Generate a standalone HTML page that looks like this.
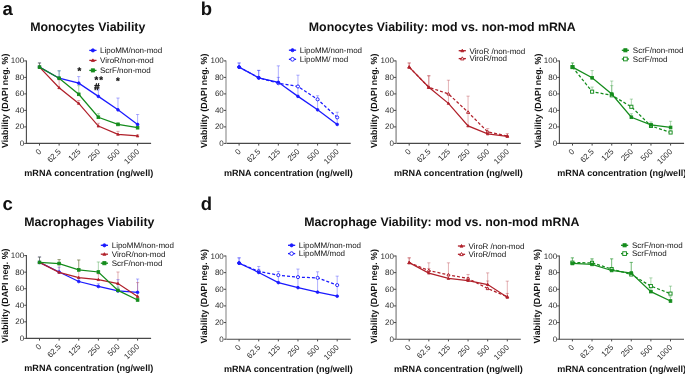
<!DOCTYPE html>
<html><head><meta charset="utf-8"><style>
html,body{margin:0;padding:0;background:#fff;width:685px;height:374px;overflow:hidden}
svg{display:block;will-change:transform;filter:blur(0.25px)}
text{font-family:"Liberation Sans", sans-serif;text-rendering:geometricPrecision}
</style></head><body>
<svg width="685" height="374" viewBox="0 0 685 374">
<rect width="685" height="374" fill="#fff"/>
<text x="2.60" y="14.60" font-size="18.5" font-weight="bold" text-anchor="start" fill="#111" >a</text>
<text x="200.80" y="14.70" font-size="18.5" font-weight="bold" text-anchor="start" fill="#111" >b</text>
<text x="2.60" y="209.90" font-size="18.5" font-weight="bold" text-anchor="start" fill="#111" >c</text>
<text x="200.80" y="209.80" font-size="18.5" font-weight="bold" text-anchor="start" fill="#111" >d</text>
<text x="30.20" y="31.40" font-size="12.36" font-weight="bold" text-anchor="start" fill="#111" >Monocytes Viability</text>
<text x="308.80" y="31.40" font-size="12.36" font-weight="bold" text-anchor="start" fill="#111" >Monocytes Viability: mod vs. non-mod mRNA</text>
<text x="24.20" y="226.20" font-size="12.36" font-weight="bold" text-anchor="start" fill="#111" >Macrophages Viability</text>
<text x="304.20" y="226.20" font-size="12.36" font-weight="bold" text-anchor="start" fill="#111" >Macrophage Viability: mod vs. non-mod mRNA</text>
<line x1="26.40" y1="143.40" x2="151.10" y2="143.40" stroke="#484848" stroke-width="1.1"/>
<line x1="26.40" y1="60.40" x2="26.40" y2="143.90" stroke="#484848" stroke-width="1.1"/>
<line x1="24.20" y1="143.40" x2="26.40" y2="143.40" stroke="#484848" stroke-width="1"/>
<text x="24.20" y="145.90" font-size="8.0" font-weight="normal" text-anchor="end" fill="#2a2a2a" >0</text>
<line x1="24.20" y1="126.90" x2="26.40" y2="126.90" stroke="#484848" stroke-width="1"/>
<text x="24.20" y="129.40" font-size="8.0" font-weight="normal" text-anchor="end" fill="#2a2a2a" >20</text>
<line x1="24.20" y1="110.40" x2="26.40" y2="110.40" stroke="#484848" stroke-width="1"/>
<text x="24.20" y="112.90" font-size="8.0" font-weight="normal" text-anchor="end" fill="#2a2a2a" >40</text>
<line x1="24.20" y1="93.90" x2="26.40" y2="93.90" stroke="#484848" stroke-width="1"/>
<text x="24.20" y="96.40" font-size="8.0" font-weight="normal" text-anchor="end" fill="#2a2a2a" >60</text>
<line x1="24.20" y1="77.40" x2="26.40" y2="77.40" stroke="#484848" stroke-width="1"/>
<text x="24.20" y="79.90" font-size="8.0" font-weight="normal" text-anchor="end" fill="#2a2a2a" >80</text>
<line x1="24.20" y1="60.90" x2="26.40" y2="60.90" stroke="#484848" stroke-width="1"/>
<text x="24.20" y="63.40" font-size="8.0" font-weight="normal" text-anchor="end" fill="#2a2a2a" >100</text>
<line x1="39.50" y1="143.40" x2="39.50" y2="145.60" stroke="#484848" stroke-width="1"/>
<text x="0" y="0" font-size="8.0" text-anchor="end" fill="#2a2a2a" transform="translate(41.80,152.10) rotate(-45)">0</text>
<line x1="59.12" y1="143.40" x2="59.12" y2="145.60" stroke="#484848" stroke-width="1"/>
<text x="0" y="0" font-size="8.0" text-anchor="end" fill="#2a2a2a" transform="translate(61.42,152.10) rotate(-45)">62.5</text>
<line x1="78.74" y1="143.40" x2="78.74" y2="145.60" stroke="#484848" stroke-width="1"/>
<text x="0" y="0" font-size="8.0" text-anchor="end" fill="#2a2a2a" transform="translate(81.04,152.10) rotate(-45)">125</text>
<line x1="98.36" y1="143.40" x2="98.36" y2="145.60" stroke="#484848" stroke-width="1"/>
<text x="0" y="0" font-size="8.0" text-anchor="end" fill="#2a2a2a" transform="translate(100.66,152.10) rotate(-45)">250</text>
<line x1="117.98" y1="143.40" x2="117.98" y2="145.60" stroke="#484848" stroke-width="1"/>
<text x="0" y="0" font-size="8.0" text-anchor="end" fill="#2a2a2a" transform="translate(120.28,152.10) rotate(-45)">500</text>
<line x1="137.60" y1="143.40" x2="137.60" y2="145.60" stroke="#484848" stroke-width="1"/>
<text x="0" y="0" font-size="8.0" text-anchor="end" fill="#2a2a2a" transform="translate(139.90,152.10) rotate(-45)">1000</text>
<text x="0" y="0" font-size="8.9" font-weight="bold" text-anchor="middle" fill="#111" transform="translate(7.50,100.85) rotate(-90)">Viability (DAPI neg. %)</text>
<text x="88.75" y="176.40" font-size="9.05" font-weight="bold" text-anchor="middle" fill="#111" >mRNA concentration (ng/well)</text>
<path d="M39.50,67.09 L39.50,62.96 M37.90,62.96 L41.10,62.96" stroke="#1a1aff" stroke-width="0.9" stroke-opacity="0.38" fill="none"/>
<path d="M59.12,78.23 L59.12,70.80 M57.52,70.80 L60.72,70.80" stroke="#1a1aff" stroke-width="0.9" stroke-opacity="0.38" fill="none"/>
<path d="M78.74,83.18 L78.74,76.58 M77.14,76.58 L80.34,76.58" stroke="#1a1aff" stroke-width="0.9" stroke-opacity="0.38" fill="none"/>
<path d="M98.36,96.38 L98.36,89.78 M96.76,89.78 L99.96,89.78" stroke="#1a1aff" stroke-width="0.9" stroke-opacity="0.38" fill="none"/>
<path d="M117.98,109.82 L117.98,98.03 M116.38,98.03 L119.58,98.03" stroke="#1a1aff" stroke-width="0.9" stroke-opacity="0.38" fill="none"/>
<path d="M137.60,124.43 L137.60,114.53 M136.00,114.53 L139.20,114.53" stroke="#1a1aff" stroke-width="0.9" stroke-opacity="0.38" fill="none"/>
<path d="M39.50,67.09 L39.50,62.96 M37.90,62.96 L41.10,62.96" stroke="#b0202a" stroke-width="0.9" stroke-opacity="0.38" fill="none"/>
<path d="M59.12,87.71 L59.12,79.88 M57.52,79.88 L60.72,79.88" stroke="#b0202a" stroke-width="0.9" stroke-opacity="0.38" fill="none"/>
<path d="M78.74,103.39 L78.74,100.50 M77.14,100.50 L80.34,100.50" stroke="#b0202a" stroke-width="0.9" stroke-opacity="0.38" fill="none"/>
<path d="M98.36,126.08 L98.36,123.27 M96.76,123.27 L99.96,123.27" stroke="#b0202a" stroke-width="0.9" stroke-opacity="0.38" fill="none"/>
<path d="M117.98,134.33 L117.98,131.36 M116.38,131.36 L119.58,131.36" stroke="#b0202a" stroke-width="0.9" stroke-opacity="0.38" fill="none"/>
<path d="M137.60,135.97 L137.60,134.74 M136.00,134.74 L139.20,134.74" stroke="#b0202a" stroke-width="0.9" stroke-opacity="0.38" fill="none"/>
<path d="M39.50,67.09 L39.50,62.96 M37.90,62.96 L41.10,62.96" stroke="#148c1c" stroke-width="0.9" stroke-opacity="0.38" fill="none"/>
<path d="M59.12,78.23 L59.12,70.80 M57.52,70.80 L60.72,70.80" stroke="#148c1c" stroke-width="0.9" stroke-opacity="0.38" fill="none"/>
<path d="M78.74,94.31 L78.74,85.65 M77.14,85.65 L80.34,85.65" stroke="#148c1c" stroke-width="0.9" stroke-opacity="0.38" fill="none"/>
<path d="M98.36,117.25 L98.36,113.70 M96.76,113.70 L99.96,113.70" stroke="#148c1c" stroke-width="0.9" stroke-opacity="0.38" fill="none"/>
<path d="M117.98,124.43 L117.98,122.78 M116.38,122.78 L119.58,122.78" stroke="#148c1c" stroke-width="0.9" stroke-opacity="0.38" fill="none"/>
<path d="M137.60,127.73 L137.60,125.25 M136.00,125.25 L139.20,125.25" stroke="#148c1c" stroke-width="0.9" stroke-opacity="0.38" fill="none"/>
<polyline points="39.50,67.09 59.12,78.23 78.74,83.18 98.36,96.38 117.98,109.82 137.60,124.43" fill="none" stroke="#1a1aff" stroke-width="1.25" />
<circle cx="39.50" cy="67.09" r="1.35" fill="#1a1aff" stroke="#1a1aff" stroke-width="0.8"/>
<circle cx="59.12" cy="78.23" r="1.35" fill="#1a1aff" stroke="#1a1aff" stroke-width="0.8"/>
<circle cx="78.74" cy="83.18" r="1.35" fill="#1a1aff" stroke="#1a1aff" stroke-width="0.8"/>
<circle cx="98.36" cy="96.38" r="1.35" fill="#1a1aff" stroke="#1a1aff" stroke-width="0.8"/>
<circle cx="117.98" cy="109.82" r="1.35" fill="#1a1aff" stroke="#1a1aff" stroke-width="0.8"/>
<circle cx="137.60" cy="124.43" r="1.35" fill="#1a1aff" stroke="#1a1aff" stroke-width="0.8"/>
<polyline points="39.50,67.09 59.12,87.71 78.74,103.39 98.36,126.08 117.98,134.33 137.60,135.97" fill="none" stroke="#b0202a" stroke-width="1.25" />
<path d="M39.50,65.81 L40.78,68.05 L38.22,68.05 Z" fill="#b0202a" stroke="#b0202a" stroke-width="0.8"/>
<path d="M59.12,86.43 L60.40,88.67 L57.84,88.67 Z" fill="#b0202a" stroke="#b0202a" stroke-width="0.8"/>
<path d="M78.74,102.11 L80.02,104.35 L77.46,104.35 Z" fill="#b0202a" stroke="#b0202a" stroke-width="0.8"/>
<path d="M98.36,124.79 L99.64,127.04 L97.08,127.04 Z" fill="#b0202a" stroke="#b0202a" stroke-width="0.8"/>
<path d="M117.98,133.04 L119.26,135.29 L116.70,135.29 Z" fill="#b0202a" stroke="#b0202a" stroke-width="0.8"/>
<path d="M137.60,134.69 L138.88,136.94 L136.32,136.94 Z" fill="#b0202a" stroke="#b0202a" stroke-width="0.8"/>
<polyline points="39.50,67.09 59.12,78.23 78.74,94.31 98.36,117.25 117.98,124.43 137.60,127.73" fill="none" stroke="#148c1c" stroke-width="1.25" />
<rect x="38.15" y="65.74" width="2.70" height="2.70" fill="#148c1c" stroke="#148c1c" stroke-width="0.8"/>
<rect x="57.77" y="76.88" width="2.70" height="2.70" fill="#148c1c" stroke="#148c1c" stroke-width="0.8"/>
<rect x="77.39" y="92.96" width="2.70" height="2.70" fill="#148c1c" stroke="#148c1c" stroke-width="0.8"/>
<rect x="97.01" y="115.90" width="2.70" height="2.70" fill="#148c1c" stroke="#148c1c" stroke-width="0.8"/>
<rect x="116.63" y="123.08" width="2.70" height="2.70" fill="#148c1c" stroke="#148c1c" stroke-width="0.8"/>
<rect x="136.25" y="126.38" width="2.70" height="2.70" fill="#148c1c" stroke="#148c1c" stroke-width="0.8"/>
<line x1="89.30" y1="50.40" x2="96.50" y2="50.40" stroke="#1a1aff" stroke-width="1.3"/>
<circle cx="92.90" cy="50.40" r="1.60" fill="#1a1aff" stroke="#1a1aff" stroke-width="0.8"/>
<text x="100.00" y="53.25" font-size="8" font-weight="normal" text-anchor="start" fill="#111" >LipoMM/non-mod</text>
<line x1="89.30" y1="60.40" x2="96.50" y2="60.40" stroke="#b0202a" stroke-width="1.3"/>
<path d="M92.90,58.88 L94.42,61.54 L91.38,61.54 Z" fill="#b0202a" stroke="#b0202a" stroke-width="0.8"/>
<text x="100.00" y="63.25" font-size="8" font-weight="normal" text-anchor="start" fill="#111" >ViroR/non-mod</text>
<line x1="89.30" y1="70.40" x2="96.50" y2="70.40" stroke="#148c1c" stroke-width="1.3"/>
<rect x="91.30" y="68.80" width="3.20" height="3.20" fill="#148c1c" stroke="#148c1c" stroke-width="0.8"/>
<text x="100.00" y="73.25" font-size="8" font-weight="normal" text-anchor="start" fill="#111" >ScrF/non-mod</text>
<text x="79.40" y="73.60" font-size="9.6" font-weight="bold" text-anchor="middle" fill="#111" stroke="#111" stroke-width="0.25">*</text>
<text x="96.40" y="82.70" font-size="9.6" font-weight="bold" text-anchor="middle" fill="#111" stroke="#111" stroke-width="0.25">*</text>
<text x="101.10" y="82.70" font-size="9.6" font-weight="bold" text-anchor="middle" fill="#111" stroke="#111" stroke-width="0.25">*</text>
<text x="117.80" y="83.80" font-size="9.6" font-weight="bold" text-anchor="middle" fill="#111" stroke="#111" stroke-width="0.25">*</text>
<text x="94.21" y="89.73" font-size="9.5" font-weight="bold" text-anchor="start" fill="#111" stroke="#111" stroke-width="0.45">#</text>
<line x1="226.00" y1="143.40" x2="350.70" y2="143.40" stroke="#484848" stroke-width="1.1"/>
<line x1="226.00" y1="60.40" x2="226.00" y2="143.90" stroke="#aaa" stroke-width="1.5"/>
<line x1="223.80" y1="143.40" x2="226.00" y2="143.40" stroke="#484848" stroke-width="1"/>
<text x="223.80" y="145.90" font-size="8.0" font-weight="normal" text-anchor="end" fill="#2a2a2a" >0</text>
<line x1="223.80" y1="126.90" x2="226.00" y2="126.90" stroke="#484848" stroke-width="1"/>
<text x="223.80" y="129.40" font-size="8.0" font-weight="normal" text-anchor="end" fill="#2a2a2a" >20</text>
<line x1="223.80" y1="110.40" x2="226.00" y2="110.40" stroke="#484848" stroke-width="1"/>
<text x="223.80" y="112.90" font-size="8.0" font-weight="normal" text-anchor="end" fill="#2a2a2a" >40</text>
<line x1="223.80" y1="93.90" x2="226.00" y2="93.90" stroke="#484848" stroke-width="1"/>
<text x="223.80" y="96.40" font-size="8.0" font-weight="normal" text-anchor="end" fill="#2a2a2a" >60</text>
<line x1="223.80" y1="77.40" x2="226.00" y2="77.40" stroke="#484848" stroke-width="1"/>
<text x="223.80" y="79.90" font-size="8.0" font-weight="normal" text-anchor="end" fill="#2a2a2a" >80</text>
<line x1="223.80" y1="60.90" x2="226.00" y2="60.90" stroke="#484848" stroke-width="1"/>
<text x="223.80" y="63.40" font-size="8.0" font-weight="normal" text-anchor="end" fill="#2a2a2a" >100</text>
<line x1="239.10" y1="143.40" x2="239.10" y2="145.60" stroke="#484848" stroke-width="1"/>
<text x="0" y="0" font-size="8.0" text-anchor="end" fill="#2a2a2a" transform="translate(241.40,152.10) rotate(-45)">0</text>
<line x1="258.72" y1="143.40" x2="258.72" y2="145.60" stroke="#484848" stroke-width="1"/>
<text x="0" y="0" font-size="8.0" text-anchor="end" fill="#2a2a2a" transform="translate(261.02,152.10) rotate(-45)">62.5</text>
<line x1="278.34" y1="143.40" x2="278.34" y2="145.60" stroke="#484848" stroke-width="1"/>
<text x="0" y="0" font-size="8.0" text-anchor="end" fill="#2a2a2a" transform="translate(280.64,152.10) rotate(-45)">125</text>
<line x1="297.96" y1="143.40" x2="297.96" y2="145.60" stroke="#484848" stroke-width="1"/>
<text x="0" y="0" font-size="8.0" text-anchor="end" fill="#2a2a2a" transform="translate(300.26,152.10) rotate(-45)">250</text>
<line x1="317.58" y1="143.40" x2="317.58" y2="145.60" stroke="#484848" stroke-width="1"/>
<text x="0" y="0" font-size="8.0" text-anchor="end" fill="#2a2a2a" transform="translate(319.88,152.10) rotate(-45)">500</text>
<line x1="337.20" y1="143.40" x2="337.20" y2="145.60" stroke="#484848" stroke-width="1"/>
<text x="0" y="0" font-size="8.0" text-anchor="end" fill="#2a2a2a" transform="translate(339.50,152.10) rotate(-45)">1000</text>
<text x="0" y="0" font-size="8.9" font-weight="bold" text-anchor="middle" fill="#111" transform="translate(207.10,100.85) rotate(-90)">Viability (DAPI neg. %)</text>
<text x="288.35" y="176.40" font-size="9.05" font-weight="bold" text-anchor="middle" fill="#111" >mRNA concentration (ng/well)</text>
<path d="M239.10,67.09 L239.10,62.96 M237.50,62.96 L240.70,62.96" stroke="#1a1aff" stroke-width="0.9" stroke-opacity="0.38" fill="none"/>
<path d="M258.72,77.81 L258.72,70.39 M257.12,70.39 L260.32,70.39" stroke="#1a1aff" stroke-width="0.9" stroke-opacity="0.38" fill="none"/>
<path d="M278.34,82.35 L278.34,77.40 M276.74,77.40 L279.94,77.40" stroke="#1a1aff" stroke-width="0.9" stroke-opacity="0.38" fill="none"/>
<path d="M297.96,96.38 L297.96,86.48 M296.36,86.48 L299.56,86.48" stroke="#1a1aff" stroke-width="0.9" stroke-opacity="0.38" fill="none"/>
<path d="M317.58,109.82 L317.58,99.68 M315.98,99.68 L319.18,99.68" stroke="#1a1aff" stroke-width="0.9" stroke-opacity="0.38" fill="none"/>
<path d="M337.20,124.43 L337.20,117.83 M335.60,117.83 L338.80,117.83" stroke="#1a1aff" stroke-width="0.9" stroke-opacity="0.38" fill="none"/>
<path d="M239.10,67.09 L239.10,62.96 M237.50,62.96 L240.70,62.96" stroke="#1a1aff" stroke-width="0.9" stroke-opacity="0.38" fill="none"/>
<path d="M258.72,77.81 L258.72,70.39 M257.12,70.39 L260.32,70.39" stroke="#1a1aff" stroke-width="0.9" stroke-opacity="0.38" fill="none"/>
<path d="M278.34,83.18 L278.34,65.85 M276.74,65.85 L279.94,65.85" stroke="#1a1aff" stroke-width="0.9" stroke-opacity="0.38" fill="none"/>
<path d="M297.96,86.48 L297.96,75.17 M296.36,75.17 L299.56,75.17" stroke="#1a1aff" stroke-width="0.9" stroke-opacity="0.38" fill="none"/>
<path d="M317.58,99.34 L317.58,95.72 M315.98,95.72 L319.18,95.72" stroke="#1a1aff" stroke-width="0.9" stroke-opacity="0.38" fill="none"/>
<path d="M337.20,117.41 L337.20,112.22 M335.60,112.22 L338.80,112.22" stroke="#1a1aff" stroke-width="0.9" stroke-opacity="0.38" fill="none"/>
<polyline points="239.10,67.09 258.72,77.81 278.34,83.18 297.96,86.48 317.58,99.34 337.20,117.41" fill="none" stroke="#1a1aff" stroke-width="1.25" stroke-dasharray="3,2"/>
<circle cx="239.10" cy="67.09" r="1.55" fill="#fff" stroke="#1a1aff" stroke-width="0.95"/>
<circle cx="258.72" cy="77.81" r="1.55" fill="#fff" stroke="#1a1aff" stroke-width="0.95"/>
<circle cx="278.34" cy="83.18" r="1.55" fill="#fff" stroke="#1a1aff" stroke-width="0.95"/>
<circle cx="297.96" cy="86.48" r="1.55" fill="#fff" stroke="#1a1aff" stroke-width="0.95"/>
<circle cx="317.58" cy="99.34" r="1.55" fill="#fff" stroke="#1a1aff" stroke-width="0.95"/>
<circle cx="337.20" cy="117.41" r="1.55" fill="#fff" stroke="#1a1aff" stroke-width="0.95"/>
<polyline points="239.10,67.09 258.72,77.81 278.34,82.35 297.96,96.38 317.58,109.82 337.20,124.43" fill="none" stroke="#1a1aff" stroke-width="1.25" />
<circle cx="239.10" cy="67.09" r="1.35" fill="#1a1aff" stroke="#1a1aff" stroke-width="0.8"/>
<circle cx="258.72" cy="77.81" r="1.35" fill="#1a1aff" stroke="#1a1aff" stroke-width="0.8"/>
<circle cx="278.34" cy="82.35" r="1.35" fill="#1a1aff" stroke="#1a1aff" stroke-width="0.8"/>
<circle cx="297.96" cy="96.38" r="1.35" fill="#1a1aff" stroke="#1a1aff" stroke-width="0.8"/>
<circle cx="317.58" cy="109.82" r="1.35" fill="#1a1aff" stroke="#1a1aff" stroke-width="0.8"/>
<circle cx="337.20" cy="124.43" r="1.35" fill="#1a1aff" stroke="#1a1aff" stroke-width="0.8"/>
<line x1="288.90" y1="50.20" x2="296.10" y2="50.20" stroke="#1a1aff" stroke-width="1.3"/>
<circle cx="292.50" cy="50.20" r="1.60" fill="#1a1aff" stroke="#1a1aff" stroke-width="0.8"/>
<text x="299.80" y="53.05" font-size="8" font-weight="normal" text-anchor="start" fill="#111" >LipoMM/non-mod</text>
<line x1="288.90" y1="59.30" x2="296.10" y2="59.30" stroke="#1a1aff" stroke-width="1.3"/>
<circle cx="292.50" cy="59.30" r="1.84" fill="#fff" stroke="#1a1aff" stroke-width="0.95"/>
<text x="299.80" y="62.15" font-size="8" font-weight="normal" text-anchor="start" fill="#111" >LipoMM/ mod</text>
<line x1="396.10" y1="143.40" x2="520.80" y2="143.40" stroke="#484848" stroke-width="1.1"/>
<line x1="396.10" y1="60.40" x2="396.10" y2="143.90" stroke="#999" stroke-width="1.5"/>
<line x1="393.90" y1="143.40" x2="396.10" y2="143.40" stroke="#484848" stroke-width="1"/>
<text x="393.90" y="145.90" font-size="8.0" font-weight="normal" text-anchor="end" fill="#2a2a2a" >0</text>
<line x1="393.90" y1="126.90" x2="396.10" y2="126.90" stroke="#484848" stroke-width="1"/>
<text x="393.90" y="129.40" font-size="8.0" font-weight="normal" text-anchor="end" fill="#2a2a2a" >20</text>
<line x1="393.90" y1="110.40" x2="396.10" y2="110.40" stroke="#484848" stroke-width="1"/>
<text x="393.90" y="112.90" font-size="8.0" font-weight="normal" text-anchor="end" fill="#2a2a2a" >40</text>
<line x1="393.90" y1="93.90" x2="396.10" y2="93.90" stroke="#484848" stroke-width="1"/>
<text x="393.90" y="96.40" font-size="8.0" font-weight="normal" text-anchor="end" fill="#2a2a2a" >60</text>
<line x1="393.90" y1="77.40" x2="396.10" y2="77.40" stroke="#484848" stroke-width="1"/>
<text x="393.90" y="79.90" font-size="8.0" font-weight="normal" text-anchor="end" fill="#2a2a2a" >80</text>
<line x1="393.90" y1="60.90" x2="396.10" y2="60.90" stroke="#484848" stroke-width="1"/>
<text x="393.90" y="63.40" font-size="8.0" font-weight="normal" text-anchor="end" fill="#2a2a2a" >100</text>
<line x1="409.20" y1="143.40" x2="409.20" y2="145.60" stroke="#484848" stroke-width="1"/>
<text x="0" y="0" font-size="8.0" text-anchor="end" fill="#2a2a2a" transform="translate(411.50,152.10) rotate(-45)">0</text>
<line x1="428.82" y1="143.40" x2="428.82" y2="145.60" stroke="#484848" stroke-width="1"/>
<text x="0" y="0" font-size="8.0" text-anchor="end" fill="#2a2a2a" transform="translate(431.12,152.10) rotate(-45)">62.5</text>
<line x1="448.44" y1="143.40" x2="448.44" y2="145.60" stroke="#484848" stroke-width="1"/>
<text x="0" y="0" font-size="8.0" text-anchor="end" fill="#2a2a2a" transform="translate(450.74,152.10) rotate(-45)">125</text>
<line x1="468.06" y1="143.40" x2="468.06" y2="145.60" stroke="#484848" stroke-width="1"/>
<text x="0" y="0" font-size="8.0" text-anchor="end" fill="#2a2a2a" transform="translate(470.36,152.10) rotate(-45)">250</text>
<line x1="487.68" y1="143.40" x2="487.68" y2="145.60" stroke="#484848" stroke-width="1"/>
<text x="0" y="0" font-size="8.0" text-anchor="end" fill="#2a2a2a" transform="translate(489.98,152.10) rotate(-45)">500</text>
<line x1="507.30" y1="143.40" x2="507.30" y2="145.60" stroke="#484848" stroke-width="1"/>
<text x="0" y="0" font-size="8.0" text-anchor="end" fill="#2a2a2a" transform="translate(509.60,152.10) rotate(-45)">1000</text>
<text x="0" y="0" font-size="8.9" font-weight="bold" text-anchor="middle" fill="#111" transform="translate(377.20,100.85) rotate(-90)">Viability (DAPI neg. %)</text>
<text x="458.45" y="176.40" font-size="9.05" font-weight="bold" text-anchor="middle" fill="#111" >mRNA concentration (ng/well)</text>
<path d="M409.20,67.09 L409.20,62.96 M407.60,62.96 L410.80,62.96" stroke="#b0202a" stroke-width="0.9" stroke-opacity="0.38" fill="none"/>
<path d="M428.82,87.30 L428.82,75.75 M427.22,75.75 L430.42,75.75" stroke="#b0202a" stroke-width="0.9" stroke-opacity="0.38" fill="none"/>
<path d="M448.44,103.39 L448.44,93.90 M446.84,93.90 L450.04,93.90" stroke="#b0202a" stroke-width="0.9" stroke-opacity="0.38" fill="none"/>
<path d="M468.06,125.91 L468.06,112.22 M466.46,112.22 L469.66,112.22" stroke="#b0202a" stroke-width="0.9" stroke-opacity="0.38" fill="none"/>
<path d="M487.68,133.91 L487.68,131.85 M486.08,131.85 L489.28,131.85" stroke="#b0202a" stroke-width="0.9" stroke-opacity="0.38" fill="none"/>
<path d="M507.30,136.39 L507.30,135.56 M505.70,135.56 L508.90,135.56" stroke="#b0202a" stroke-width="0.9" stroke-opacity="0.38" fill="none"/>
<path d="M409.20,67.09 L409.20,62.96 M407.60,62.96 L410.80,62.96" stroke="#b0202a" stroke-width="0.9" stroke-opacity="0.38" fill="none"/>
<path d="M428.82,87.30 L428.82,75.75 M427.22,75.75 L430.42,75.75" stroke="#b0202a" stroke-width="0.9" stroke-opacity="0.38" fill="none"/>
<path d="M448.44,93.90 L448.44,80.21 M446.84,80.21 L450.04,80.21" stroke="#b0202a" stroke-width="0.9" stroke-opacity="0.38" fill="none"/>
<path d="M468.06,112.22 L468.06,96.13 M466.46,96.13 L469.66,96.13" stroke="#b0202a" stroke-width="0.9" stroke-opacity="0.38" fill="none"/>
<path d="M487.68,131.85 L487.68,128.55 M486.08,128.55 L489.28,128.55" stroke="#b0202a" stroke-width="0.9" stroke-opacity="0.38" fill="none"/>
<path d="M507.30,135.97 L507.30,133.50 M505.70,133.50 L508.90,133.50" stroke="#b0202a" stroke-width="0.9" stroke-opacity="0.38" fill="none"/>
<polyline points="409.20,67.09 428.82,87.30 448.44,93.90 468.06,112.22 487.68,131.85 507.30,135.97" fill="none" stroke="#b0202a" stroke-width="1.25" stroke-dasharray="3,2"/>
<path d="M409.20,65.61 L410.67,68.19 L407.73,68.19 Z" fill="#fff" stroke="#b0202a" stroke-width="0.95"/>
<path d="M428.82,85.83 L430.29,88.41 L427.35,88.41 Z" fill="#fff" stroke="#b0202a" stroke-width="0.95"/>
<path d="M448.44,92.43 L449.91,95.01 L446.97,95.01 Z" fill="#fff" stroke="#b0202a" stroke-width="0.95"/>
<path d="M468.06,110.74 L469.53,113.32 L466.59,113.32 Z" fill="#fff" stroke="#b0202a" stroke-width="0.95"/>
<path d="M487.68,130.38 L489.15,132.96 L486.21,132.96 Z" fill="#fff" stroke="#b0202a" stroke-width="0.95"/>
<path d="M507.30,134.50 L508.77,137.08 L505.83,137.08 Z" fill="#fff" stroke="#b0202a" stroke-width="0.95"/>
<polyline points="409.20,67.09 428.82,87.30 448.44,103.39 468.06,125.91 487.68,133.91 507.30,136.39" fill="none" stroke="#b0202a" stroke-width="1.25" />
<path d="M409.20,65.81 L410.48,68.05 L407.92,68.05 Z" fill="#b0202a" stroke="#b0202a" stroke-width="0.8"/>
<path d="M428.82,86.02 L430.10,88.26 L427.54,88.26 Z" fill="#b0202a" stroke="#b0202a" stroke-width="0.8"/>
<path d="M448.44,102.11 L449.72,104.35 L447.16,104.35 Z" fill="#b0202a" stroke="#b0202a" stroke-width="0.8"/>
<path d="M468.06,124.63 L469.34,126.87 L466.78,126.87 Z" fill="#b0202a" stroke="#b0202a" stroke-width="0.8"/>
<path d="M487.68,132.63 L488.96,134.87 L486.40,134.87 Z" fill="#b0202a" stroke="#b0202a" stroke-width="0.8"/>
<path d="M507.30,135.11 L508.58,137.35 L506.02,137.35 Z" fill="#b0202a" stroke="#b0202a" stroke-width="0.8"/>
<line x1="458.70" y1="50.70" x2="465.90" y2="50.70" stroke="#b0202a" stroke-width="1.3"/>
<path d="M462.30,49.18 L463.82,51.84 L460.78,51.84 Z" fill="#b0202a" stroke="#b0202a" stroke-width="0.8"/>
<text x="469.40" y="53.55" font-size="8" font-weight="normal" text-anchor="start" fill="#111" >ViroR /non-mod</text>
<line x1="458.70" y1="58.60" x2="465.90" y2="58.60" stroke="#b0202a" stroke-width="1.3"/>
<path d="M462.30,56.85 L464.05,59.91 L460.55,59.91 Z" fill="#fff" stroke="#b0202a" stroke-width="0.95"/>
<text x="469.40" y="61.45" font-size="8" font-weight="normal" text-anchor="start" fill="#111" >ViroR/mod</text>
<line x1="559.40" y1="143.40" x2="684.10" y2="143.40" stroke="#484848" stroke-width="1.1"/>
<line x1="559.40" y1="60.40" x2="559.40" y2="143.90" stroke="#484848" stroke-width="1.1"/>
<line x1="557.20" y1="143.40" x2="559.40" y2="143.40" stroke="#484848" stroke-width="1"/>
<text x="557.20" y="145.90" font-size="8.0" font-weight="normal" text-anchor="end" fill="#2a2a2a" >0</text>
<line x1="557.20" y1="126.90" x2="559.40" y2="126.90" stroke="#484848" stroke-width="1"/>
<text x="557.20" y="129.40" font-size="8.0" font-weight="normal" text-anchor="end" fill="#2a2a2a" >20</text>
<line x1="557.20" y1="110.40" x2="559.40" y2="110.40" stroke="#484848" stroke-width="1"/>
<text x="557.20" y="112.90" font-size="8.0" font-weight="normal" text-anchor="end" fill="#2a2a2a" >40</text>
<line x1="557.20" y1="93.90" x2="559.40" y2="93.90" stroke="#484848" stroke-width="1"/>
<text x="557.20" y="96.40" font-size="8.0" font-weight="normal" text-anchor="end" fill="#2a2a2a" >60</text>
<line x1="557.20" y1="77.40" x2="559.40" y2="77.40" stroke="#484848" stroke-width="1"/>
<text x="557.20" y="79.90" font-size="8.0" font-weight="normal" text-anchor="end" fill="#2a2a2a" >80</text>
<line x1="557.20" y1="60.90" x2="559.40" y2="60.90" stroke="#484848" stroke-width="1"/>
<text x="557.20" y="63.40" font-size="8.0" font-weight="normal" text-anchor="end" fill="#2a2a2a" >100</text>
<line x1="572.50" y1="143.40" x2="572.50" y2="145.60" stroke="#484848" stroke-width="1"/>
<text x="0" y="0" font-size="8.0" text-anchor="end" fill="#2a2a2a" transform="translate(574.80,152.10) rotate(-45)">0</text>
<line x1="592.12" y1="143.40" x2="592.12" y2="145.60" stroke="#484848" stroke-width="1"/>
<text x="0" y="0" font-size="8.0" text-anchor="end" fill="#2a2a2a" transform="translate(594.42,152.10) rotate(-45)">62.5</text>
<line x1="611.74" y1="143.40" x2="611.74" y2="145.60" stroke="#484848" stroke-width="1"/>
<text x="0" y="0" font-size="8.0" text-anchor="end" fill="#2a2a2a" transform="translate(614.04,152.10) rotate(-45)">125</text>
<line x1="631.36" y1="143.40" x2="631.36" y2="145.60" stroke="#484848" stroke-width="1"/>
<text x="0" y="0" font-size="8.0" text-anchor="end" fill="#2a2a2a" transform="translate(633.66,152.10) rotate(-45)">250</text>
<line x1="650.98" y1="143.40" x2="650.98" y2="145.60" stroke="#484848" stroke-width="1"/>
<text x="0" y="0" font-size="8.0" text-anchor="end" fill="#2a2a2a" transform="translate(653.28,152.10) rotate(-45)">500</text>
<line x1="670.60" y1="143.40" x2="670.60" y2="145.60" stroke="#484848" stroke-width="1"/>
<text x="0" y="0" font-size="8.0" text-anchor="end" fill="#2a2a2a" transform="translate(672.90,152.10) rotate(-45)">1000</text>
<text x="0" y="0" font-size="8.9" font-weight="bold" text-anchor="middle" fill="#111" transform="translate(540.50,100.85) rotate(-90)">Viability (DAPI neg. %)</text>
<text x="621.75" y="176.40" font-size="9.05" font-weight="bold" text-anchor="middle" fill="#111" >mRNA concentration (ng/well)</text>
<path d="M572.50,67.09 L572.50,62.96 M570.90,62.96 L574.10,62.96" stroke="#148c1c" stroke-width="0.9" stroke-opacity="0.38" fill="none"/>
<path d="M592.12,77.81 L592.12,70.55 M590.52,70.55 L593.72,70.55" stroke="#148c1c" stroke-width="0.9" stroke-opacity="0.38" fill="none"/>
<path d="M611.74,94.07 L611.74,85.65 M610.14,85.65 L613.34,85.65" stroke="#148c1c" stroke-width="0.9" stroke-opacity="0.38" fill="none"/>
<path d="M631.36,117.25 L631.36,113.70 M629.76,113.70 L632.96,113.70" stroke="#148c1c" stroke-width="0.9" stroke-opacity="0.38" fill="none"/>
<path d="M650.98,124.92 L650.98,121.95 M649.38,121.95 L652.58,121.95" stroke="#148c1c" stroke-width="0.9" stroke-opacity="0.38" fill="none"/>
<path d="M670.60,127.48 L670.60,121.29 M669.00,121.29 L672.20,121.29" stroke="#148c1c" stroke-width="0.9" stroke-opacity="0.38" fill="none"/>
<path d="M572.50,67.09 L572.50,62.96 M570.90,62.96 L574.10,62.96" stroke="#148c1c" stroke-width="0.9" stroke-opacity="0.38" fill="none"/>
<path d="M592.12,91.67 L592.12,87.05 M590.52,87.05 L593.72,87.05" stroke="#148c1c" stroke-width="0.9" stroke-opacity="0.38" fill="none"/>
<path d="M611.74,95.30 L611.74,81.03 M610.14,81.03 L613.34,81.03" stroke="#148c1c" stroke-width="0.9" stroke-opacity="0.38" fill="none"/>
<path d="M631.36,106.77 L631.36,99.10 M629.76,99.10 L632.96,99.10" stroke="#148c1c" stroke-width="0.9" stroke-opacity="0.38" fill="none"/>
<path d="M650.98,125.91 L650.98,123.60 M649.38,123.60 L652.58,123.60" stroke="#148c1c" stroke-width="0.9" stroke-opacity="0.38" fill="none"/>
<path d="M670.60,132.51 L670.60,130.20 M669.00,130.20 L672.20,130.20" stroke="#148c1c" stroke-width="0.9" stroke-opacity="0.38" fill="none"/>
<polyline points="572.50,67.09 592.12,91.67 611.74,95.30 631.36,106.77 650.98,125.91 670.60,132.51" fill="none" stroke="#148c1c" stroke-width="1.25" stroke-dasharray="3,2"/>
<rect x="570.95" y="65.54" width="3.10" height="3.10" fill="#fff" stroke="#148c1c" stroke-width="0.95"/>
<rect x="590.57" y="90.12" width="3.10" height="3.10" fill="#fff" stroke="#148c1c" stroke-width="0.95"/>
<rect x="610.19" y="93.75" width="3.10" height="3.10" fill="#fff" stroke="#148c1c" stroke-width="0.95"/>
<rect x="629.81" y="105.22" width="3.10" height="3.10" fill="#fff" stroke="#148c1c" stroke-width="0.95"/>
<rect x="649.43" y="124.36" width="3.10" height="3.10" fill="#fff" stroke="#148c1c" stroke-width="0.95"/>
<rect x="669.05" y="130.96" width="3.10" height="3.10" fill="#fff" stroke="#148c1c" stroke-width="0.95"/>
<polyline points="572.50,67.09 592.12,77.81 611.74,94.07 631.36,117.25 650.98,124.92 670.60,127.48" fill="none" stroke="#148c1c" stroke-width="1.25" />
<rect x="571.15" y="65.74" width="2.70" height="2.70" fill="#148c1c" stroke="#148c1c" stroke-width="0.8"/>
<rect x="590.77" y="76.46" width="2.70" height="2.70" fill="#148c1c" stroke="#148c1c" stroke-width="0.8"/>
<rect x="610.39" y="92.72" width="2.70" height="2.70" fill="#148c1c" stroke="#148c1c" stroke-width="0.8"/>
<rect x="630.01" y="115.90" width="2.70" height="2.70" fill="#148c1c" stroke="#148c1c" stroke-width="0.8"/>
<rect x="649.63" y="123.57" width="2.70" height="2.70" fill="#148c1c" stroke="#148c1c" stroke-width="0.8"/>
<rect x="669.25" y="126.13" width="2.70" height="2.70" fill="#148c1c" stroke="#148c1c" stroke-width="0.8"/>
<line x1="621.80" y1="50.30" x2="629.00" y2="50.30" stroke="#148c1c" stroke-width="1.3"/>
<rect x="623.80" y="48.70" width="3.20" height="3.20" fill="#148c1c" stroke="#148c1c" stroke-width="0.8"/>
<text x="632.80" y="53.15" font-size="8" font-weight="normal" text-anchor="start" fill="#111" >ScrF/non-mod</text>
<line x1="621.80" y1="59.00" x2="629.00" y2="59.00" stroke="#148c1c" stroke-width="1.3"/>
<rect x="623.56" y="57.16" width="3.68" height="3.68" fill="#fff" stroke="#148c1c" stroke-width="0.95"/>
<text x="632.80" y="61.85" font-size="8" font-weight="normal" text-anchor="start" fill="#111" >ScrF/mod</text>
<line x1="26.40" y1="338.40" x2="151.10" y2="338.40" stroke="#484848" stroke-width="1.1"/>
<line x1="26.40" y1="255.10" x2="26.40" y2="338.90" stroke="#484848" stroke-width="1.1"/>
<line x1="24.20" y1="338.40" x2="26.40" y2="338.40" stroke="#484848" stroke-width="1"/>
<text x="24.20" y="340.90" font-size="8.0" font-weight="normal" text-anchor="end" fill="#2a2a2a" >0</text>
<line x1="24.20" y1="321.84" x2="26.40" y2="321.84" stroke="#484848" stroke-width="1"/>
<text x="24.20" y="324.34" font-size="8.0" font-weight="normal" text-anchor="end" fill="#2a2a2a" >20</text>
<line x1="24.20" y1="305.28" x2="26.40" y2="305.28" stroke="#484848" stroke-width="1"/>
<text x="24.20" y="307.78" font-size="8.0" font-weight="normal" text-anchor="end" fill="#2a2a2a" >40</text>
<line x1="24.20" y1="288.72" x2="26.40" y2="288.72" stroke="#484848" stroke-width="1"/>
<text x="24.20" y="291.22" font-size="8.0" font-weight="normal" text-anchor="end" fill="#2a2a2a" >60</text>
<line x1="24.20" y1="272.16" x2="26.40" y2="272.16" stroke="#484848" stroke-width="1"/>
<text x="24.20" y="274.66" font-size="8.0" font-weight="normal" text-anchor="end" fill="#2a2a2a" >80</text>
<line x1="24.20" y1="255.60" x2="26.40" y2="255.60" stroke="#484848" stroke-width="1"/>
<text x="24.20" y="258.10" font-size="8.0" font-weight="normal" text-anchor="end" fill="#2a2a2a" >100</text>
<line x1="39.50" y1="338.40" x2="39.50" y2="340.60" stroke="#484848" stroke-width="1"/>
<text x="0" y="0" font-size="8.0" text-anchor="end" fill="#2a2a2a" transform="translate(41.80,347.10) rotate(-45)">0</text>
<line x1="59.12" y1="338.40" x2="59.12" y2="340.60" stroke="#484848" stroke-width="1"/>
<text x="0" y="0" font-size="8.0" text-anchor="end" fill="#2a2a2a" transform="translate(61.42,347.10) rotate(-45)">62.5</text>
<line x1="78.74" y1="338.40" x2="78.74" y2="340.60" stroke="#484848" stroke-width="1"/>
<text x="0" y="0" font-size="8.0" text-anchor="end" fill="#2a2a2a" transform="translate(81.04,347.10) rotate(-45)">125</text>
<line x1="98.36" y1="338.40" x2="98.36" y2="340.60" stroke="#484848" stroke-width="1"/>
<text x="0" y="0" font-size="8.0" text-anchor="end" fill="#2a2a2a" transform="translate(100.66,347.10) rotate(-45)">250</text>
<line x1="117.98" y1="338.40" x2="117.98" y2="340.60" stroke="#484848" stroke-width="1"/>
<text x="0" y="0" font-size="8.0" text-anchor="end" fill="#2a2a2a" transform="translate(120.28,347.10) rotate(-45)">500</text>
<line x1="137.60" y1="338.40" x2="137.60" y2="340.60" stroke="#484848" stroke-width="1"/>
<text x="0" y="0" font-size="8.0" text-anchor="end" fill="#2a2a2a" transform="translate(139.90,347.10) rotate(-45)">1000</text>
<text x="0" y="0" font-size="8.9" font-weight="bold" text-anchor="middle" fill="#111" transform="translate(7.50,295.70) rotate(-90)">Viability (DAPI neg. %)</text>
<text x="88.75" y="371.40" font-size="9.05" font-weight="bold" text-anchor="middle" fill="#111" >mRNA concentration (ng/well)</text>
<path d="M39.50,262.39 L39.50,257.01 M37.90,257.01 L41.10,257.01" stroke="#1a1aff" stroke-width="0.9" stroke-opacity="0.38" fill="none"/>
<path d="M59.12,271.99 L59.12,267.19 M57.52,267.19 L60.72,267.19" stroke="#1a1aff" stroke-width="0.9" stroke-opacity="0.38" fill="none"/>
<path d="M78.74,281.52 L78.74,278.78 M77.14,278.78 L80.34,278.78" stroke="#1a1aff" stroke-width="0.9" stroke-opacity="0.38" fill="none"/>
<path d="M98.36,286.48 L98.36,283.75 M96.76,283.75 L99.96,283.75" stroke="#1a1aff" stroke-width="0.9" stroke-opacity="0.38" fill="none"/>
<path d="M117.98,290.96 L117.98,279.61 M116.38,279.61 L119.58,279.61" stroke="#1a1aff" stroke-width="0.9" stroke-opacity="0.38" fill="none"/>
<path d="M137.60,292.36 L137.60,279.03 M136.00,279.03 L139.20,279.03" stroke="#1a1aff" stroke-width="0.9" stroke-opacity="0.38" fill="none"/>
<path d="M39.50,262.39 L39.50,257.01 M37.90,257.01 L41.10,257.01" stroke="#b0202a" stroke-width="0.9" stroke-opacity="0.38" fill="none"/>
<path d="M59.12,272.33 L59.12,259.57 M57.52,259.57 L60.72,259.57" stroke="#b0202a" stroke-width="0.9" stroke-opacity="0.38" fill="none"/>
<path d="M78.74,277.54 L78.74,259.99 M77.14,259.99 L80.34,259.99" stroke="#b0202a" stroke-width="0.9" stroke-opacity="0.38" fill="none"/>
<path d="M98.36,279.61 L98.36,273.82 M96.76,273.82 L99.96,273.82" stroke="#b0202a" stroke-width="0.9" stroke-opacity="0.38" fill="none"/>
<path d="M117.98,283.59 L117.98,271.99 M116.38,271.99 L119.58,271.99" stroke="#b0202a" stroke-width="0.9" stroke-opacity="0.38" fill="none"/>
<path d="M137.60,296.42 L137.60,282.59 M136.00,282.59 L139.20,282.59" stroke="#b0202a" stroke-width="0.9" stroke-opacity="0.38" fill="none"/>
<path d="M39.50,262.39 L39.50,257.01 M37.90,257.01 L41.10,257.01" stroke="#148c1c" stroke-width="0.9" stroke-opacity="0.38" fill="none"/>
<path d="M59.12,263.55 L59.12,259.57 M57.52,259.57 L60.72,259.57" stroke="#148c1c" stroke-width="0.9" stroke-opacity="0.38" fill="none"/>
<path d="M78.74,269.92 L78.74,259.99 M77.14,259.99 L80.34,259.99" stroke="#148c1c" stroke-width="0.9" stroke-opacity="0.38" fill="none"/>
<path d="M98.36,271.99 L98.36,261.98 M96.76,261.98 L99.96,261.98" stroke="#148c1c" stroke-width="0.9" stroke-opacity="0.38" fill="none"/>
<path d="M117.98,290.38 L117.98,287.06 M116.38,287.06 L119.58,287.06" stroke="#148c1c" stroke-width="0.9" stroke-opacity="0.38" fill="none"/>
<path d="M137.60,299.98 L137.60,297.00 M136.00,297.00 L139.20,297.00" stroke="#148c1c" stroke-width="0.9" stroke-opacity="0.38" fill="none"/>
<polyline points="39.50,262.39 59.12,271.99 78.74,281.52 98.36,286.48 117.98,290.96 137.60,292.36" fill="none" stroke="#1a1aff" stroke-width="1.25" />
<circle cx="39.50" cy="262.39" r="1.35" fill="#1a1aff" stroke="#1a1aff" stroke-width="0.8"/>
<circle cx="59.12" cy="271.99" r="1.35" fill="#1a1aff" stroke="#1a1aff" stroke-width="0.8"/>
<circle cx="78.74" cy="281.52" r="1.35" fill="#1a1aff" stroke="#1a1aff" stroke-width="0.8"/>
<circle cx="98.36" cy="286.48" r="1.35" fill="#1a1aff" stroke="#1a1aff" stroke-width="0.8"/>
<circle cx="117.98" cy="290.96" r="1.35" fill="#1a1aff" stroke="#1a1aff" stroke-width="0.8"/>
<circle cx="137.60" cy="292.36" r="1.35" fill="#1a1aff" stroke="#1a1aff" stroke-width="0.8"/>
<polyline points="39.50,262.39 59.12,272.33 78.74,277.54 98.36,279.61 117.98,283.59 137.60,296.42" fill="none" stroke="#b0202a" stroke-width="1.25" />
<path d="M39.50,261.11 L40.78,263.35 L38.22,263.35 Z" fill="#b0202a" stroke="#b0202a" stroke-width="0.8"/>
<path d="M59.12,271.04 L60.40,273.29 L57.84,273.29 Z" fill="#b0202a" stroke="#b0202a" stroke-width="0.8"/>
<path d="M78.74,276.26 L80.02,278.50 L77.46,278.50 Z" fill="#b0202a" stroke="#b0202a" stroke-width="0.8"/>
<path d="M98.36,278.33 L99.64,280.57 L97.08,280.57 Z" fill="#b0202a" stroke="#b0202a" stroke-width="0.8"/>
<path d="M117.98,282.30 L119.26,284.55 L116.70,284.55 Z" fill="#b0202a" stroke="#b0202a" stroke-width="0.8"/>
<path d="M137.60,295.14 L138.88,297.38 L136.32,297.38 Z" fill="#b0202a" stroke="#b0202a" stroke-width="0.8"/>
<polyline points="39.50,262.39 59.12,263.55 78.74,269.92 98.36,271.99 117.98,290.38 137.60,299.98" fill="none" stroke="#148c1c" stroke-width="1.25" />
<rect x="38.15" y="261.04" width="2.70" height="2.70" fill="#148c1c" stroke="#148c1c" stroke-width="0.8"/>
<rect x="57.77" y="262.20" width="2.70" height="2.70" fill="#148c1c" stroke="#148c1c" stroke-width="0.8"/>
<rect x="77.39" y="268.57" width="2.70" height="2.70" fill="#148c1c" stroke="#148c1c" stroke-width="0.8"/>
<rect x="97.01" y="270.64" width="2.70" height="2.70" fill="#148c1c" stroke="#148c1c" stroke-width="0.8"/>
<rect x="116.63" y="289.03" width="2.70" height="2.70" fill="#148c1c" stroke="#148c1c" stroke-width="0.8"/>
<rect x="136.25" y="298.63" width="2.70" height="2.70" fill="#148c1c" stroke="#148c1c" stroke-width="0.8"/>
<line x1="100.80" y1="245.30" x2="108.00" y2="245.30" stroke="#1a1aff" stroke-width="1.3"/>
<circle cx="104.40" cy="245.30" r="1.60" fill="#1a1aff" stroke="#1a1aff" stroke-width="0.8"/>
<text x="111.70" y="248.15" font-size="8" font-weight="normal" text-anchor="start" fill="#111" >LipoMM/non-mod</text>
<line x1="100.80" y1="254.20" x2="108.00" y2="254.20" stroke="#b0202a" stroke-width="1.3"/>
<path d="M104.40,252.68 L105.92,255.34 L102.88,255.34 Z" fill="#b0202a" stroke="#b0202a" stroke-width="0.8"/>
<text x="111.70" y="257.05" font-size="8" font-weight="normal" text-anchor="start" fill="#111" >ViroR/non-mod</text>
<line x1="100.80" y1="263.20" x2="108.00" y2="263.20" stroke="#148c1c" stroke-width="1.3"/>
<rect x="102.80" y="261.60" width="3.20" height="3.20" fill="#148c1c" stroke="#148c1c" stroke-width="0.8"/>
<text x="111.70" y="266.05" font-size="8" font-weight="normal" text-anchor="start" fill="#111" >ScrF/non-mod</text>
<line x1="226.00" y1="339.20" x2="350.70" y2="339.20" stroke="#484848" stroke-width="1.1"/>
<line x1="226.00" y1="255.50" x2="226.00" y2="339.70" stroke="#aaa" stroke-width="1.5"/>
<line x1="223.80" y1="339.20" x2="226.00" y2="339.20" stroke="#484848" stroke-width="1"/>
<text x="223.80" y="341.70" font-size="8.0" font-weight="normal" text-anchor="end" fill="#2a2a2a" >0</text>
<line x1="223.80" y1="322.56" x2="226.00" y2="322.56" stroke="#484848" stroke-width="1"/>
<text x="223.80" y="325.06" font-size="8.0" font-weight="normal" text-anchor="end" fill="#2a2a2a" >20</text>
<line x1="223.80" y1="305.92" x2="226.00" y2="305.92" stroke="#484848" stroke-width="1"/>
<text x="223.80" y="308.42" font-size="8.0" font-weight="normal" text-anchor="end" fill="#2a2a2a" >40</text>
<line x1="223.80" y1="289.28" x2="226.00" y2="289.28" stroke="#484848" stroke-width="1"/>
<text x="223.80" y="291.78" font-size="8.0" font-weight="normal" text-anchor="end" fill="#2a2a2a" >60</text>
<line x1="223.80" y1="272.64" x2="226.00" y2="272.64" stroke="#484848" stroke-width="1"/>
<text x="223.80" y="275.14" font-size="8.0" font-weight="normal" text-anchor="end" fill="#2a2a2a" >80</text>
<line x1="223.80" y1="256.00" x2="226.00" y2="256.00" stroke="#484848" stroke-width="1"/>
<text x="223.80" y="258.50" font-size="8.0" font-weight="normal" text-anchor="end" fill="#2a2a2a" >100</text>
<line x1="239.10" y1="339.20" x2="239.10" y2="341.40" stroke="#484848" stroke-width="1"/>
<text x="0" y="0" font-size="8.0" text-anchor="end" fill="#2a2a2a" transform="translate(241.40,347.90) rotate(-45)">0</text>
<line x1="258.72" y1="339.20" x2="258.72" y2="341.40" stroke="#484848" stroke-width="1"/>
<text x="0" y="0" font-size="8.0" text-anchor="end" fill="#2a2a2a" transform="translate(261.02,347.90) rotate(-45)">62.5</text>
<line x1="278.34" y1="339.20" x2="278.34" y2="341.40" stroke="#484848" stroke-width="1"/>
<text x="0" y="0" font-size="8.0" text-anchor="end" fill="#2a2a2a" transform="translate(280.64,347.90) rotate(-45)">125</text>
<line x1="297.96" y1="339.20" x2="297.96" y2="341.40" stroke="#484848" stroke-width="1"/>
<text x="0" y="0" font-size="8.0" text-anchor="end" fill="#2a2a2a" transform="translate(300.26,347.90) rotate(-45)">250</text>
<line x1="317.58" y1="339.20" x2="317.58" y2="341.40" stroke="#484848" stroke-width="1"/>
<text x="0" y="0" font-size="8.0" text-anchor="end" fill="#2a2a2a" transform="translate(319.88,347.90) rotate(-45)">500</text>
<line x1="337.20" y1="339.20" x2="337.20" y2="341.40" stroke="#484848" stroke-width="1"/>
<text x="0" y="0" font-size="8.0" text-anchor="end" fill="#2a2a2a" transform="translate(339.50,347.90) rotate(-45)">1000</text>
<text x="0" y="0" font-size="8.9" font-weight="bold" text-anchor="middle" fill="#111" transform="translate(207.10,296.30) rotate(-90)">Viability (DAPI neg. %)</text>
<text x="288.35" y="372.20" font-size="9.05" font-weight="bold" text-anchor="middle" fill="#111" >mRNA concentration (ng/well)</text>
<path d="M239.10,263.07 L239.10,257.83 M237.50,257.83 L240.70,257.83" stroke="#1a1aff" stroke-width="0.9" stroke-opacity="0.38" fill="none"/>
<path d="M258.72,272.47 L258.72,269.31 M257.12,269.31 L260.32,269.31" stroke="#1a1aff" stroke-width="0.9" stroke-opacity="0.38" fill="none"/>
<path d="M278.34,282.62 L278.34,275.14 M276.74,275.14 L279.94,275.14" stroke="#1a1aff" stroke-width="0.9" stroke-opacity="0.38" fill="none"/>
<path d="M297.96,287.62 L297.96,277.63 M296.36,277.63 L299.56,277.63" stroke="#1a1aff" stroke-width="0.9" stroke-opacity="0.38" fill="none"/>
<path d="M317.58,292.19 L317.58,278.46 M315.98,278.46 L319.18,278.46" stroke="#1a1aff" stroke-width="0.9" stroke-opacity="0.38" fill="none"/>
<path d="M337.20,296.19 L337.20,285.12 M335.60,285.12 L338.80,285.12" stroke="#1a1aff" stroke-width="0.9" stroke-opacity="0.38" fill="none"/>
<path d="M239.10,263.07 L239.10,257.83 M237.50,257.83 L240.70,257.83" stroke="#1a1aff" stroke-width="0.9" stroke-opacity="0.38" fill="none"/>
<path d="M258.72,271.48 L258.72,266.48 M257.12,266.48 L260.32,266.48" stroke="#1a1aff" stroke-width="0.9" stroke-opacity="0.38" fill="none"/>
<path d="M278.34,275.14 L278.34,271.48 M276.74,271.48 L279.94,271.48" stroke="#1a1aff" stroke-width="0.9" stroke-opacity="0.38" fill="none"/>
<path d="M297.96,277.13 L297.96,269.06 M296.36,269.06 L299.56,269.06" stroke="#1a1aff" stroke-width="0.9" stroke-opacity="0.38" fill="none"/>
<path d="M317.58,277.88 L317.58,271.81 M315.98,271.81 L319.18,271.81" stroke="#1a1aff" stroke-width="0.9" stroke-opacity="0.38" fill="none"/>
<path d="M337.20,285.12 L337.20,276.13 M335.60,276.13 L338.80,276.13" stroke="#1a1aff" stroke-width="0.9" stroke-opacity="0.38" fill="none"/>
<polyline points="239.10,263.07 258.72,271.48 278.34,275.14 297.96,277.13 317.58,277.88 337.20,285.12" fill="none" stroke="#1a1aff" stroke-width="1.25" stroke-dasharray="3,2"/>
<circle cx="239.10" cy="263.07" r="1.55" fill="#fff" stroke="#1a1aff" stroke-width="0.95"/>
<circle cx="258.72" cy="271.48" r="1.55" fill="#fff" stroke="#1a1aff" stroke-width="0.95"/>
<circle cx="278.34" cy="275.14" r="1.55" fill="#fff" stroke="#1a1aff" stroke-width="0.95"/>
<circle cx="297.96" cy="277.13" r="1.55" fill="#fff" stroke="#1a1aff" stroke-width="0.95"/>
<circle cx="317.58" cy="277.88" r="1.55" fill="#fff" stroke="#1a1aff" stroke-width="0.95"/>
<circle cx="337.20" cy="285.12" r="1.55" fill="#fff" stroke="#1a1aff" stroke-width="0.95"/>
<polyline points="239.10,263.07 258.72,272.47 278.34,282.62 297.96,287.62 317.58,292.19 337.20,296.19" fill="none" stroke="#1a1aff" stroke-width="1.25" />
<circle cx="239.10" cy="263.07" r="1.35" fill="#1a1aff" stroke="#1a1aff" stroke-width="0.8"/>
<circle cx="258.72" cy="272.47" r="1.35" fill="#1a1aff" stroke="#1a1aff" stroke-width="0.8"/>
<circle cx="278.34" cy="282.62" r="1.35" fill="#1a1aff" stroke="#1a1aff" stroke-width="0.8"/>
<circle cx="297.96" cy="287.62" r="1.35" fill="#1a1aff" stroke="#1a1aff" stroke-width="0.8"/>
<circle cx="317.58" cy="292.19" r="1.35" fill="#1a1aff" stroke="#1a1aff" stroke-width="0.8"/>
<circle cx="337.20" cy="296.19" r="1.35" fill="#1a1aff" stroke="#1a1aff" stroke-width="0.8"/>
<line x1="288.00" y1="245.30" x2="295.20" y2="245.30" stroke="#1a1aff" stroke-width="1.3"/>
<circle cx="291.60" cy="245.30" r="1.60" fill="#1a1aff" stroke="#1a1aff" stroke-width="0.8"/>
<text x="298.80" y="248.15" font-size="8" font-weight="normal" text-anchor="start" fill="#111" >LipoMM/non-mod</text>
<line x1="288.00" y1="253.60" x2="295.20" y2="253.60" stroke="#1a1aff" stroke-width="1.3"/>
<circle cx="291.60" cy="253.60" r="1.84" fill="#fff" stroke="#1a1aff" stroke-width="0.95"/>
<text x="298.80" y="256.45" font-size="8" font-weight="normal" text-anchor="start" fill="#111" >LipoMM/mod</text>
<line x1="396.10" y1="339.20" x2="520.80" y2="339.20" stroke="#484848" stroke-width="1.1"/>
<line x1="396.10" y1="255.50" x2="396.10" y2="339.70" stroke="#999" stroke-width="1.5"/>
<line x1="393.90" y1="339.20" x2="396.10" y2="339.20" stroke="#484848" stroke-width="1"/>
<text x="393.90" y="341.70" font-size="8.0" font-weight="normal" text-anchor="end" fill="#2a2a2a" >0</text>
<line x1="393.90" y1="322.56" x2="396.10" y2="322.56" stroke="#484848" stroke-width="1"/>
<text x="393.90" y="325.06" font-size="8.0" font-weight="normal" text-anchor="end" fill="#2a2a2a" >20</text>
<line x1="393.90" y1="305.92" x2="396.10" y2="305.92" stroke="#484848" stroke-width="1"/>
<text x="393.90" y="308.42" font-size="8.0" font-weight="normal" text-anchor="end" fill="#2a2a2a" >40</text>
<line x1="393.90" y1="289.28" x2="396.10" y2="289.28" stroke="#484848" stroke-width="1"/>
<text x="393.90" y="291.78" font-size="8.0" font-weight="normal" text-anchor="end" fill="#2a2a2a" >60</text>
<line x1="393.90" y1="272.64" x2="396.10" y2="272.64" stroke="#484848" stroke-width="1"/>
<text x="393.90" y="275.14" font-size="8.0" font-weight="normal" text-anchor="end" fill="#2a2a2a" >80</text>
<line x1="393.90" y1="256.00" x2="396.10" y2="256.00" stroke="#484848" stroke-width="1"/>
<text x="393.90" y="258.50" font-size="8.0" font-weight="normal" text-anchor="end" fill="#2a2a2a" >100</text>
<line x1="409.20" y1="339.20" x2="409.20" y2="341.40" stroke="#484848" stroke-width="1"/>
<text x="0" y="0" font-size="8.0" text-anchor="end" fill="#2a2a2a" transform="translate(411.50,347.90) rotate(-45)">0</text>
<line x1="428.82" y1="339.20" x2="428.82" y2="341.40" stroke="#484848" stroke-width="1"/>
<text x="0" y="0" font-size="8.0" text-anchor="end" fill="#2a2a2a" transform="translate(431.12,347.90) rotate(-45)">62.5</text>
<line x1="448.44" y1="339.20" x2="448.44" y2="341.40" stroke="#484848" stroke-width="1"/>
<text x="0" y="0" font-size="8.0" text-anchor="end" fill="#2a2a2a" transform="translate(450.74,347.90) rotate(-45)">125</text>
<line x1="468.06" y1="339.20" x2="468.06" y2="341.40" stroke="#484848" stroke-width="1"/>
<text x="0" y="0" font-size="8.0" text-anchor="end" fill="#2a2a2a" transform="translate(470.36,347.90) rotate(-45)">250</text>
<line x1="487.68" y1="339.20" x2="487.68" y2="341.40" stroke="#484848" stroke-width="1"/>
<text x="0" y="0" font-size="8.0" text-anchor="end" fill="#2a2a2a" transform="translate(489.98,347.90) rotate(-45)">500</text>
<line x1="507.30" y1="339.20" x2="507.30" y2="341.40" stroke="#484848" stroke-width="1"/>
<text x="0" y="0" font-size="8.0" text-anchor="end" fill="#2a2a2a" transform="translate(509.60,347.90) rotate(-45)">1000</text>
<text x="0" y="0" font-size="8.9" font-weight="bold" text-anchor="middle" fill="#111" transform="translate(377.20,296.30) rotate(-90)">Viability (DAPI neg. %)</text>
<text x="458.45" y="372.20" font-size="9.05" font-weight="bold" text-anchor="middle" fill="#111" >mRNA concentration (ng/well)</text>
<path d="M409.20,262.66 L409.20,257.83 M407.60,257.83 L410.80,257.83" stroke="#b0202a" stroke-width="0.9" stroke-opacity="0.38" fill="none"/>
<path d="M428.82,273.06 L428.82,268.48 M427.22,268.48 L430.42,268.48" stroke="#b0202a" stroke-width="0.9" stroke-opacity="0.38" fill="none"/>
<path d="M448.44,278.46 L448.44,274.30 M446.84,274.30 L450.04,274.30" stroke="#b0202a" stroke-width="0.9" stroke-opacity="0.38" fill="none"/>
<path d="M468.06,280.54 L468.06,277.63 M466.46,277.63 L469.66,277.63" stroke="#b0202a" stroke-width="0.9" stroke-opacity="0.38" fill="none"/>
<path d="M487.68,284.54 L487.68,280.96 M486.08,280.96 L489.28,280.96" stroke="#b0202a" stroke-width="0.9" stroke-opacity="0.38" fill="none"/>
<path d="M507.30,297.18 L507.30,293.44 M505.70,293.44 L508.90,293.44" stroke="#b0202a" stroke-width="0.9" stroke-opacity="0.38" fill="none"/>
<path d="M409.20,262.66 L409.20,257.83 M407.60,257.83 L410.80,257.83" stroke="#b0202a" stroke-width="0.9" stroke-opacity="0.38" fill="none"/>
<path d="M428.82,270.48 L428.82,262.82 M427.22,262.82 L430.42,262.82" stroke="#b0202a" stroke-width="0.9" stroke-opacity="0.38" fill="none"/>
<path d="M448.44,274.89 L448.44,262.82 M446.84,262.82 L450.04,262.82" stroke="#b0202a" stroke-width="0.9" stroke-opacity="0.38" fill="none"/>
<path d="M468.06,278.46 L468.06,274.47 M466.46,274.47 L469.66,274.47" stroke="#b0202a" stroke-width="0.9" stroke-opacity="0.38" fill="none"/>
<path d="M487.68,288.53 L487.68,272.89 M486.08,272.89 L489.28,272.89" stroke="#b0202a" stroke-width="0.9" stroke-opacity="0.38" fill="none"/>
<path d="M507.30,296.77 L507.30,281.13 M505.70,281.13 L508.90,281.13" stroke="#b0202a" stroke-width="0.9" stroke-opacity="0.38" fill="none"/>
<polyline points="409.20,262.66 428.82,270.48 448.44,274.89 468.06,278.46 487.68,288.53 507.30,296.77" fill="none" stroke="#b0202a" stroke-width="1.25" stroke-dasharray="3,2"/>
<path d="M409.20,261.18 L410.67,263.76 L407.73,263.76 Z" fill="#fff" stroke="#b0202a" stroke-width="0.95"/>
<path d="M428.82,269.00 L430.29,271.58 L427.35,271.58 Z" fill="#fff" stroke="#b0202a" stroke-width="0.95"/>
<path d="M448.44,273.41 L449.91,275.99 L446.97,275.99 Z" fill="#fff" stroke="#b0202a" stroke-width="0.95"/>
<path d="M468.06,276.99 L469.53,279.57 L466.59,279.57 Z" fill="#fff" stroke="#b0202a" stroke-width="0.95"/>
<path d="M487.68,287.06 L489.15,289.64 L486.21,289.64 Z" fill="#fff" stroke="#b0202a" stroke-width="0.95"/>
<path d="M507.30,295.29 L508.77,297.87 L505.83,297.87 Z" fill="#fff" stroke="#b0202a" stroke-width="0.95"/>
<polyline points="409.20,262.66 428.82,273.06 448.44,278.46 468.06,280.54 487.68,284.54 507.30,297.18" fill="none" stroke="#b0202a" stroke-width="1.25" />
<path d="M409.20,261.37 L410.48,263.62 L407.92,263.62 Z" fill="#b0202a" stroke="#b0202a" stroke-width="0.8"/>
<path d="M428.82,271.77 L430.10,274.02 L427.54,274.02 Z" fill="#b0202a" stroke="#b0202a" stroke-width="0.8"/>
<path d="M448.44,277.18 L449.72,279.43 L447.16,279.43 Z" fill="#b0202a" stroke="#b0202a" stroke-width="0.8"/>
<path d="M468.06,279.26 L469.34,281.51 L466.78,281.51 Z" fill="#b0202a" stroke="#b0202a" stroke-width="0.8"/>
<path d="M487.68,283.26 L488.96,285.50 L486.40,285.50 Z" fill="#b0202a" stroke="#b0202a" stroke-width="0.8"/>
<path d="M507.30,295.90 L508.58,298.15 L506.02,298.15 Z" fill="#b0202a" stroke="#b0202a" stroke-width="0.8"/>
<line x1="457.90" y1="246.00" x2="465.10" y2="246.00" stroke="#b0202a" stroke-width="1.3"/>
<path d="M461.50,244.48 L463.02,247.14 L459.98,247.14 Z" fill="#b0202a" stroke="#b0202a" stroke-width="0.8"/>
<text x="468.50" y="248.85" font-size="8" font-weight="normal" text-anchor="start" fill="#111" >ViroR /non-mod</text>
<line x1="457.90" y1="254.30" x2="465.10" y2="254.30" stroke="#b0202a" stroke-width="1.3"/>
<path d="M461.50,252.55 L463.25,255.61 L459.75,255.61 Z" fill="#fff" stroke="#b0202a" stroke-width="0.95"/>
<text x="468.50" y="257.15" font-size="8" font-weight="normal" text-anchor="start" fill="#111" >ViroR/mod</text>
<line x1="559.30" y1="339.20" x2="684.00" y2="339.20" stroke="#484848" stroke-width="1.1"/>
<line x1="559.30" y1="255.50" x2="559.30" y2="339.70" stroke="#484848" stroke-width="1.1"/>
<line x1="557.10" y1="339.20" x2="559.30" y2="339.20" stroke="#484848" stroke-width="1"/>
<text x="557.10" y="341.70" font-size="8.0" font-weight="normal" text-anchor="end" fill="#2a2a2a" >0</text>
<line x1="557.10" y1="322.56" x2="559.30" y2="322.56" stroke="#484848" stroke-width="1"/>
<text x="557.10" y="325.06" font-size="8.0" font-weight="normal" text-anchor="end" fill="#2a2a2a" >20</text>
<line x1="557.10" y1="305.92" x2="559.30" y2="305.92" stroke="#484848" stroke-width="1"/>
<text x="557.10" y="308.42" font-size="8.0" font-weight="normal" text-anchor="end" fill="#2a2a2a" >40</text>
<line x1="557.10" y1="289.28" x2="559.30" y2="289.28" stroke="#484848" stroke-width="1"/>
<text x="557.10" y="291.78" font-size="8.0" font-weight="normal" text-anchor="end" fill="#2a2a2a" >60</text>
<line x1="557.10" y1="272.64" x2="559.30" y2="272.64" stroke="#484848" stroke-width="1"/>
<text x="557.10" y="275.14" font-size="8.0" font-weight="normal" text-anchor="end" fill="#2a2a2a" >80</text>
<line x1="557.10" y1="256.00" x2="559.30" y2="256.00" stroke="#484848" stroke-width="1"/>
<text x="557.10" y="258.50" font-size="8.0" font-weight="normal" text-anchor="end" fill="#2a2a2a" >100</text>
<line x1="572.40" y1="339.20" x2="572.40" y2="341.40" stroke="#484848" stroke-width="1"/>
<text x="0" y="0" font-size="8.0" text-anchor="end" fill="#2a2a2a" transform="translate(574.70,347.90) rotate(-45)">0</text>
<line x1="592.02" y1="339.20" x2="592.02" y2="341.40" stroke="#484848" stroke-width="1"/>
<text x="0" y="0" font-size="8.0" text-anchor="end" fill="#2a2a2a" transform="translate(594.32,347.90) rotate(-45)">62.5</text>
<line x1="611.64" y1="339.20" x2="611.64" y2="341.40" stroke="#484848" stroke-width="1"/>
<text x="0" y="0" font-size="8.0" text-anchor="end" fill="#2a2a2a" transform="translate(613.94,347.90) rotate(-45)">125</text>
<line x1="631.26" y1="339.20" x2="631.26" y2="341.40" stroke="#484848" stroke-width="1"/>
<text x="0" y="0" font-size="8.0" text-anchor="end" fill="#2a2a2a" transform="translate(633.56,347.90) rotate(-45)">250</text>
<line x1="650.88" y1="339.20" x2="650.88" y2="341.40" stroke="#484848" stroke-width="1"/>
<text x="0" y="0" font-size="8.0" text-anchor="end" fill="#2a2a2a" transform="translate(653.18,347.90) rotate(-45)">500</text>
<line x1="670.50" y1="339.20" x2="670.50" y2="341.40" stroke="#484848" stroke-width="1"/>
<text x="0" y="0" font-size="8.0" text-anchor="end" fill="#2a2a2a" transform="translate(672.80,347.90) rotate(-45)">1000</text>
<text x="0" y="0" font-size="8.9" font-weight="bold" text-anchor="middle" fill="#111" transform="translate(540.40,296.30) rotate(-90)">Viability (DAPI neg. %)</text>
<text x="621.65" y="372.20" font-size="9.05" font-weight="bold" text-anchor="middle" fill="#111" >mRNA concentration (ng/well)</text>
<path d="M572.40,263.49 L572.40,257.83 M570.80,257.83 L574.00,257.83" stroke="#148c1c" stroke-width="0.9" stroke-opacity="0.38" fill="none"/>
<path d="M592.02,264.40 L592.02,258.83 M590.42,258.83 L593.62,258.83" stroke="#148c1c" stroke-width="0.9" stroke-opacity="0.38" fill="none"/>
<path d="M611.64,270.48 L611.64,258.83 M610.04,258.83 L613.24,258.83" stroke="#148c1c" stroke-width="0.9" stroke-opacity="0.38" fill="none"/>
<path d="M631.26,273.06 L631.26,262.41 M629.66,262.41 L632.86,262.41" stroke="#148c1c" stroke-width="0.9" stroke-opacity="0.38" fill="none"/>
<path d="M650.88,291.61 L650.88,287.62 M649.28,287.62 L652.48,287.62" stroke="#148c1c" stroke-width="0.9" stroke-opacity="0.38" fill="none"/>
<path d="M670.50,301.01 L670.50,296.77 M668.90,296.77 L672.10,296.77" stroke="#148c1c" stroke-width="0.9" stroke-opacity="0.38" fill="none"/>
<path d="M572.40,262.66 L572.40,257.83 M570.80,257.83 L574.00,257.83" stroke="#148c1c" stroke-width="0.9" stroke-opacity="0.38" fill="none"/>
<path d="M592.02,262.82 L592.02,258.83 M590.42,258.83 L593.62,258.83" stroke="#148c1c" stroke-width="0.9" stroke-opacity="0.38" fill="none"/>
<path d="M611.64,269.06 L611.64,258.83 M610.04,258.83 L613.24,258.83" stroke="#148c1c" stroke-width="0.9" stroke-opacity="0.38" fill="none"/>
<path d="M631.26,274.47 L631.26,262.41 M629.66,262.41 L632.86,262.41" stroke="#148c1c" stroke-width="0.9" stroke-opacity="0.38" fill="none"/>
<path d="M650.88,286.12 L650.88,277.88 M649.28,277.88 L652.48,277.88" stroke="#148c1c" stroke-width="0.9" stroke-opacity="0.38" fill="none"/>
<path d="M670.50,293.61 L670.50,286.12 M668.90,286.12 L672.10,286.12" stroke="#148c1c" stroke-width="0.9" stroke-opacity="0.38" fill="none"/>
<polyline points="572.40,262.66 592.02,262.82 611.64,269.06 631.26,274.47 650.88,286.12 670.50,293.61" fill="none" stroke="#148c1c" stroke-width="1.25" stroke-dasharray="3,2"/>
<rect x="570.85" y="261.10" width="3.10" height="3.10" fill="#fff" stroke="#148c1c" stroke-width="0.95"/>
<rect x="590.47" y="261.27" width="3.10" height="3.10" fill="#fff" stroke="#148c1c" stroke-width="0.95"/>
<rect x="610.09" y="267.51" width="3.10" height="3.10" fill="#fff" stroke="#148c1c" stroke-width="0.95"/>
<rect x="629.71" y="272.92" width="3.10" height="3.10" fill="#fff" stroke="#148c1c" stroke-width="0.95"/>
<rect x="649.33" y="284.57" width="3.10" height="3.10" fill="#fff" stroke="#148c1c" stroke-width="0.95"/>
<rect x="668.95" y="292.05" width="3.10" height="3.10" fill="#fff" stroke="#148c1c" stroke-width="0.95"/>
<polyline points="572.40,263.49 592.02,264.40 611.64,270.48 631.26,273.06 650.88,291.61 670.50,301.01" fill="none" stroke="#148c1c" stroke-width="1.25" />
<rect x="571.05" y="262.14" width="2.70" height="2.70" fill="#148c1c" stroke="#148c1c" stroke-width="0.8"/>
<rect x="590.67" y="263.05" width="2.70" height="2.70" fill="#148c1c" stroke="#148c1c" stroke-width="0.8"/>
<rect x="610.29" y="269.13" width="2.70" height="2.70" fill="#148c1c" stroke="#148c1c" stroke-width="0.8"/>
<rect x="629.91" y="271.71" width="2.70" height="2.70" fill="#148c1c" stroke="#148c1c" stroke-width="0.8"/>
<rect x="649.53" y="290.26" width="2.70" height="2.70" fill="#148c1c" stroke="#148c1c" stroke-width="0.8"/>
<rect x="669.15" y="299.66" width="2.70" height="2.70" fill="#148c1c" stroke="#148c1c" stroke-width="0.8"/>
<line x1="621.00" y1="245.30" x2="628.20" y2="245.30" stroke="#148c1c" stroke-width="1.3"/>
<rect x="623.00" y="243.70" width="3.20" height="3.20" fill="#148c1c" stroke="#148c1c" stroke-width="0.8"/>
<text x="632.00" y="248.15" font-size="8" font-weight="normal" text-anchor="start" fill="#111" >ScrF/non-mod</text>
<line x1="621.00" y1="253.60" x2="628.20" y2="253.60" stroke="#148c1c" stroke-width="1.3"/>
<rect x="622.76" y="251.76" width="3.68" height="3.68" fill="#fff" stroke="#148c1c" stroke-width="0.95"/>
<text x="632.00" y="256.45" font-size="8" font-weight="normal" text-anchor="start" fill="#111" >ScrF/mod</text>
</svg>
</body></html>
